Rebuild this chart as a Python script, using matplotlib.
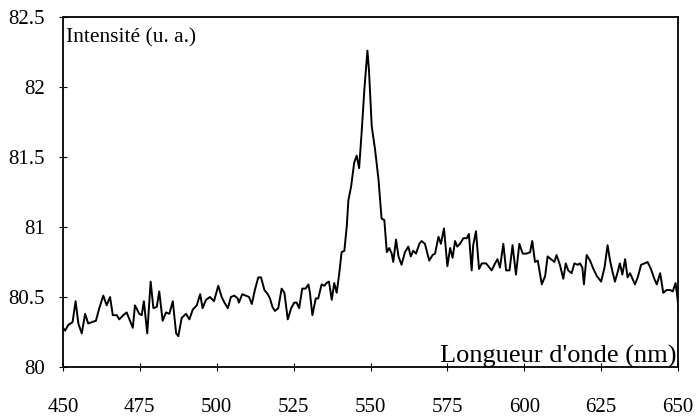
import numpy as np
import matplotlib.pyplot as plt

plt.rcParams['font.family'] = ['Liberation Serif', 'DejaVu Serif']

# spectre mesure (longueur d'onde en nm, intensite en u. a.)
wavelength = [
    450.0, 450.7, 451.7, 453.1, 454.1, 455.0, 456.1, 457.2, 458.2, 459.3,
    460.7, 461.8, 463.1, 464.2, 465.3, 466.2, 467.5, 468.3, 469.6, 470.7,
    471.8, 472.7, 473.4, 474.8, 475.6, 476.3, 477.4, 478.5, 479.4, 480.5,
    481.3, 482.4, 483.5, 484.6, 485.7, 486.8, 487.5, 488.6, 490.0, 491.1,
    492.2, 493.5, 494.6, 495.4, 496.5, 497.8, 499.1, 500.5, 501.6, 502.5,
    503.6, 504.6, 505.7, 506.8, 507.2, 508.3, 509.4, 510.5, 511.4, 512.4,
    513.5, 514.4, 515.5, 516.6, 517.3, 518.1, 518.9, 520.0, 521.1, 522.0,
    523.1, 524.2, 525.2, 526.0, 526.8, 527.8, 528.9, 529.8, 530.3, 531.1,
    532.2, 533.0, 534.1, 535.0, 535.7, 536.5, 537.4, 538.2, 539.0, 539.8,
    540.6, 541.5, 542.3, 542.8, 543.7, 544.7, 545.5, 546.3, 547.1, 548.0,
    549.0, 549.5, 550.4, 551.5, 552.6, 553.6, 554.5, 555.3, 556.1, 556.9,
    557.4, 558.3, 559.1, 560.1, 561.2, 562.3, 563.1, 563.9, 564.8, 565.9,
    566.6, 567.7, 568.5, 569.1, 570.2, 571.0, 572.1, 572.9, 573.9, 575.0,
    575.9, 576.7, 577.5, 578.2, 579.1, 580.2, 581.3, 582.0, 582.9, 583.4,
    584.3, 585.3, 586.2, 587.6, 588.7, 589.4, 590.5, 591.3, 592.1, 593.2,
    594.1, 595.2, 596.2, 597.3, 598.4, 599.5, 600.8, 601.9, 602.6, 603.5,
    604.4, 605.7, 606.8, 607.6, 608.7, 609.8, 610.5, 611.6, 612.7, 613.5,
    614.3, 615.4, 616.3, 617.4, 618.1, 618.9, 619.4, 620.3, 621.4, 622.5,
    623.6, 625.0, 626.1, 627.1, 627.9, 628.7, 629.5, 630.4, 631.1, 631.9,
    632.8, 633.6, 634.4, 635.2, 636.0, 636.9, 638.0, 639.1, 640.1, 641.2,
    642.3, 643.1, 644.2, 645.2, 646.3, 647.4, 648.3, 649.2, 649.9, 650.0,
]
intensity = [
    80.28, 80.26, 80.30, 80.32, 80.47, 80.31, 80.24, 80.38, 80.31, 80.32,
    80.33, 80.42, 80.51, 80.44, 80.50, 80.37, 80.37, 80.34, 80.37, 80.39,
    80.33, 80.28, 80.44, 80.38, 80.37, 80.47, 80.24, 80.61, 80.42, 80.43,
    80.54, 80.33, 80.39, 80.38, 80.47, 80.24, 80.22, 80.35, 80.38, 80.34,
    80.41, 80.44, 80.52, 80.42, 80.48, 80.50, 80.47, 80.58, 80.50, 80.46,
    80.42, 80.50, 80.51, 80.49, 80.46, 80.52, 80.51, 80.50, 80.45, 80.55,
    80.64, 80.64, 80.55, 80.52, 80.49, 80.43, 80.40, 80.42, 80.56, 80.53,
    80.34, 80.42, 80.46, 80.46, 80.42, 80.56, 80.56, 80.59, 80.53, 80.37,
    80.49, 80.49, 80.59, 80.58, 80.60, 80.61, 80.48, 80.60, 80.53, 80.66,
    80.82, 80.83, 81.01, 81.19, 81.29, 81.46, 81.51, 81.42, 81.67, 81.98,
    82.26, 82.12, 81.72, 81.55, 81.34, 81.06, 81.05, 80.82, 80.85, 80.81,
    80.75, 80.91, 80.79, 80.73, 80.82, 80.86, 80.79, 80.83, 80.81, 80.88,
    80.90, 80.88, 80.81, 80.76, 80.80, 80.81, 80.93, 80.88, 80.99, 80.72,
    80.85, 80.78, 80.90, 80.86, 80.88, 80.92, 80.92, 80.95, 80.69, 80.87,
    80.97, 80.70, 80.74, 80.74, 80.71, 80.69, 80.74, 80.77, 80.71, 80.88,
    80.69, 80.69, 80.87, 80.66, 80.88, 80.81, 80.81, 80.82, 80.90, 80.75,
    80.76, 80.59, 80.65, 80.79, 80.77, 80.75, 80.80, 80.73, 80.63, 80.74,
    80.69, 80.67, 80.74, 80.73, 80.74, 80.71, 80.59, 80.80, 80.76, 80.70,
    80.65, 80.61, 80.71, 80.87, 80.76, 80.68, 80.61, 80.68, 80.74, 80.66,
    80.77, 80.64, 80.67, 80.63, 80.59, 80.64, 80.73, 80.74, 80.75, 80.70,
    80.63, 80.59, 80.67, 80.53, 80.55, 80.55, 80.54, 80.60, 80.48, 80.45,
]

xticks = [450, 475, 500, 525, 550, 575, 600, 625, 650]
yticks = [80, 80.5, 81, 81.5, 82, 82.5]
ytick_labels = ['80', '80.5', '81', '81.5', '82', '82.5']

fig = plt.figure(figsize=(6.97, 4.18), dpi=100)
ax = fig.add_axes([63 / 697, 1 - 367 / 418, 615 / 697, 350 / 418])

ax.plot(wavelength, intensity, color='black', lw=1.4)

ax.set_xlim(450, 650)
ax.set_ylim(80, 82.5)
ax.set_xticks(xticks)
ax.set_yticks(yticks)
ax.set_yticklabels(ytick_labels)
ax.tick_params(axis='both', direction='inout', length=6, width=0.8,
               labelsize=15, colors='black')
ax.tick_params(axis='x', pad=19)
ax.tick_params(axis='y', pad=10)

for s in ax.spines.values():
    s.set_linewidth(1.3)
    s.set_color('black')

ax.text(0.005, 0.926, 'Intensité (u. a.)', transform=ax.transAxes,
        ha='left', va='baseline', fontsize=15.5)
ax.text(0.997, 0.014, "Longueur d'onde (nm)", transform=ax.transAxes,
        ha='right', va='baseline', fontsize=19)

fig.savefig('out.png', dpi=100)
